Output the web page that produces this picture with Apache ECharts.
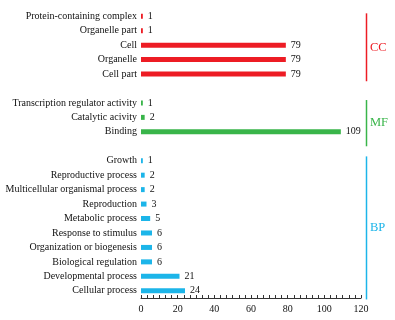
<!DOCTYPE html>
<html>
<head>
<meta charset="utf-8">
<script src="https://cdn.jsdelivr.net/npm/echarts@6/dist/echarts.min.js"></script>
<style>
  html, body { margin: 0; padding: 0; background: #fff; }
  #main { width: 395px; height: 320px; }
</style>
</head>
<body>
<div id="main"></div>
<script>
// GO categories, one list per group
const ccNames = ['Protein-containing complex', 'Organelle part', 'Cell', 'Organelle', 'Cell part'];
const ccValues = [1, 1, 79, 79, 79];
const mfNames = ['Transcription regulator activity', 'Catalytic acivity', 'Binding'];
const mfValues = [1, 2, 109];
const bpNames = ['Growth', 'Reproductive process', 'Multicellular organismal process', 'Reproduction',
  'Metabolic process', 'Response to stimulus', 'Organization or biogenesis', 'Biological regulation',
  'Developmental process', 'Cellular process'];
const bpValues = [1, 2, 2, 3, 5, 6, 6, 6, 21, 24];
const groupNames = ['CC', 'MF', 'BP'];
const xTicks = [0, 20, 40, 60, 80, 100, 120];

const Font = "'Liberation Serif', 'DejaVu Serif', serif";
const Colors = ['#ed1c24', '#39b54a', '#1cb5e9'];
// bracket overhang in category slots [above first, below last]
const BracketPad = [[-0.2, 0.5], [-0.2, 1.0], [-0.3, 0.6]];

var groups = [ccNames, mfNames, bpNames];
var groupValues = [ccValues, mfValues, bpValues];

// one blank slot between groups
var categories = [];
var starts = [];
for (var g = 0; g < groups.length; g++) {
  if (g > 0) categories.push(' '.repeat(g));
  starts.push(categories.length);
  categories = categories.concat(groups[g]);
}

function seriesData(g) {
  var arr = categories.map(function () { return '-'; });
  for (var i = 0; i < groupValues[g].length; i++) {
    arr[starts[g] + i] = groupValues[g][i];
  }
  return arr;
}

var chart = echarts.init(document.getElementById('main'), null, { renderer: 'canvas' });

var series = [];
for (var g = 0; g < groups.length; g++) {
  series.push({
    name: groupNames[g],
    type: 'bar',
    stack: 'all',
    barWidth: 5,
    data: seriesData(g),
    itemStyle: { color: Colors[g] },
    label: {
      show: true,
      position: 'right',
      distance: 5,
      color: '#111',
      fontFamily: Font,
      fontSize: 10
    }
  });
}

var option = {
  backgroundColor: '#fff',
  animation: false,
  grid: { left: 141, right: 34, top: 9, bottom: 22, containLabel: false, outerBoundsMode: 'none' },
  xAxis: {
    type: 'value',
    min: xTicks[0],
    max: xTicks[xTicks.length - 1],
    interval: xTicks[1] - xTicks[0],
    axisLine: { show: true, lineStyle: { color: '#333', width: 1 } },
    axisTick: { show: true, inside: true, length: 3, lineStyle: { color: '#333' } },
    minorTick: { show: true, splitNumber: 6, length: 3, lineStyle: { color: '#333' } },
    splitLine: { show: false },
    axisLabel: { color: '#111', fontFamily: Font, fontSize: 10, margin: 6 }
  },
  yAxis: {
    type: 'category',
    inverse: true,
    data: categories,
    axisLine: { show: false },
    axisTick: { show: false },
    axisLabel: { color: '#111', fontFamily: Font, fontSize: 10, margin: 4 }
  },
  series: series
};
chart.setOption(option);

// group brackets on the right, placed through the axes
var slot = chart.convertToPixel({ yAxisIndex: 0 }, 1) - chart.convertToPixel({ yAxisIndex: 0 }, 0);
var lineX = chart.convertToPixel({ xAxisIndex: 0 }, xTicks[xTicks.length - 1]) + 5.5;
var graphics = [];
for (var g = 0; g < groups.length; g++) {
  var y1 = chart.convertToPixel({ yAxisIndex: 0 }, starts[g]) + BracketPad[g][0] * slot;
  var y2 = chart.convertToPixel({ yAxisIndex: 0 }, starts[g] + groups[g].length - 1) + BracketPad[g][1] * slot;
  graphics.push({
    type: 'line',
    shape: { x1: lineX, y1: y1, x2: lineX, y2: y2 },
    style: { stroke: Colors[g], lineWidth: 1.5 }
  });
  graphics.push({
    type: 'text',
    x: lineX + 3.5,
    y: (y1 + y2) / 2,
    style: {
      text: groupNames[g],
      fill: Colors[g],
      fontSize: 12.5,
      fontFamily: Font,
      verticalAlign: 'middle'
    }
  });
}
chart.setOption({ graphic: graphics });
</script>
</body>
</html>
